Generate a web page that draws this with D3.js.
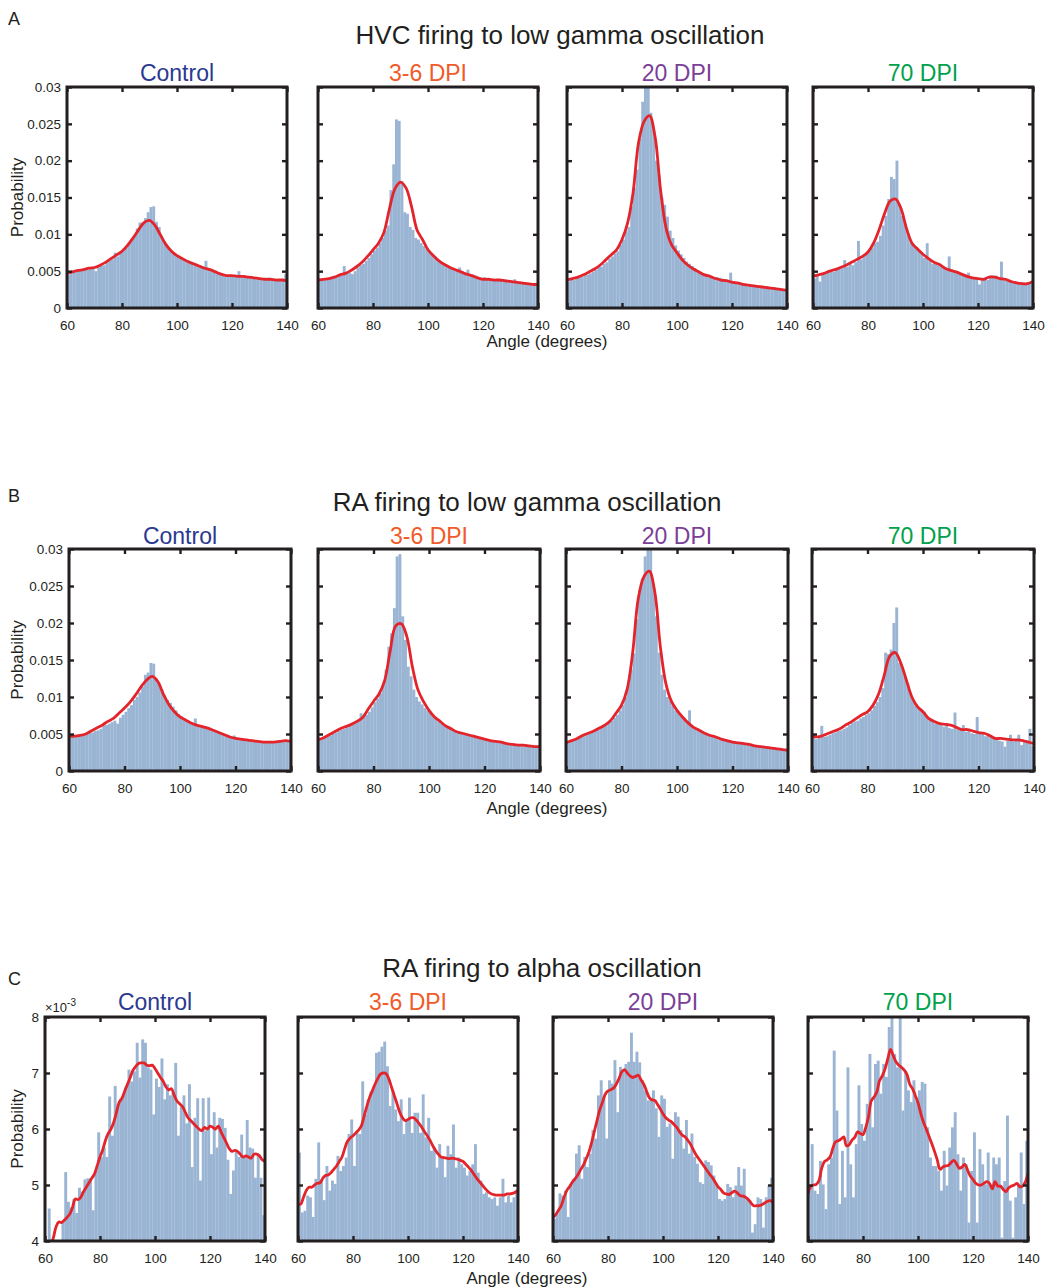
<!DOCTYPE html>
<html>
<head>
<meta charset="utf-8">
<script src="https://cdn.jsdelivr.net/npm/d3@7"></script>
<style>
  body { margin: 0; background: #fff; }
  text { font-family: "Liberation Sans", Arial, Helvetica, sans-serif; fill: #231f20; }
</style>
</head>
<body>
<svg id="fig" width="1055" height="1288"></svg>
<script>
// ---- categories and ticks ----
const groups = ["Control", "3-6 DPI", "20 DPI", "70 DPI"];
const angleTicks = [60, 80, 100, 120, 140];
const probTicks = [0, 0.005, 0.01, 0.015, 0.02, 0.025, 0.03];
const probTickLabels = ["0", "0.005", "0.01", "0.015", "0.02", "0.025", "0.03"];
const alphaTicks = [4, 5, 6, 7, 8];            // ×10^-3
const alphaTickLabels = ["4", "5", "6", "7", "8"];
const angleBins = d3.range(60, 140);            // left edges of 1° bins
const gammaSmoothAngles = d3.range(60, 141, 2);
const alphaSmoothAngles = d3.range(60, 141, 1);

// ---- A: HVC firing to low gamma oscillation ----
const hvcControlBars = [
  .0045,.0048,.0049,.0050,.0052,.0052,.0053,.0052,.0054,.0056,
  .0050,.0055,.0057,.0058,.0062,.0064,.0066,.0075,.0070,.0076,
  .0078,.0082,.0088,.0093,.0098,.0108,.0116,.0116,.0122,.0130,
  .0137,.0138,.0117,.0110,.0096,.0090,.0083,.0078,.0074,.0071,
  .0070,.0068,.0066,.0064,.0062,.0060,.0059,.0058,.0057,.0055,
  .0064,.0053,.0051,.0050,.0048,.0047,.0045,.0043,.0043,.0044,
  .0044,.0043,.0050,.0043,.0044,.0043,.0043,.0042,.0042,.0041,
  .0040,.0040,.0041,.0039,.0039,.0038,.0038,.0039,.0040,.0046];
const hvcControlSmooth = [
  .0047,.0049,.0051,.0052,.0054,.0055,.0058,.0062,.0067,.0072,
  .0077,.0085,.0095,.0106,.0116,.0119,.0112,.0099,.0086,.0077,
  .0071,.0067,.0063,.0060,.0057,.0054,.0052,.0049,.0046,.0044,
  .0044,.0043,.0043,.0042,.0041,.0040,.0039,.0039,.0038,.0038,.0037];

const hvcDpi3to6Bars = [
  .0037,.0038,.0040,.0040,.0041,.0042,.0043,.0044,.0045,.0057,
  .0047,.0048,.0046,.0050,.0055,.0058,.0060,.0064,.0068,.0073,
  .0078,.0082,.0088,.0095,.0105,.0112,.0160,.0195,.0256,.0254,
  .0172,.0130,.0128,.0110,.0106,.0095,.0093,.0088,.0084,.0080,
  .0077,.0073,.0070,.0066,.0063,.0061,.0059,.0057,.0055,.0053,
  .0052,.0055,.0050,.0048,.0052,.0046,.0045,.0044,.0042,.0041,
  .0042,.0040,.0039,.0039,.0038,.0038,.0037,.0037,.0036,.0036,
  .0036,.0039,.0035,.0034,.0034,.0033,.0033,.0033,.0032,.0033];
const hvcDpi3to6Smooth = [
  .0038,.0039,.0040,.0042,.0045,.0047,.0051,.0056,.0062,.0070,
  .0079,.0088,.0103,.0135,.0162,.0171,.0163,.0138,.0106,.0093,
  .0079,.0071,.0064,.0059,.0055,.0052,.0049,.0046,.0044,.0041,
  .0039,.0039,.0038,.0038,.0037,.0036,.0035,.0034,.0033,.0032,.0032];

const hvcDpi20Bars = [
  .0036,.0039,.0038,.0040,.0041,.0042,.0044,.0045,.0047,.0049,
  .0052,.0057,.0056,.0060,.0062,.0067,.0070,.0074,.0077,.0086,
  .0093,.0104,.0110,.0138,.0163,.0188,.0230,.0280,.0305,.0305,
  .0265,.0242,.0200,.0180,.0150,.0140,.0124,.0105,.0095,.0085,
  .0078,.0073,.0068,.0063,.0060,.0057,.0054,.0051,.0049,.0047,
  .0046,.0045,.0043,.0042,.0042,.0041,.0040,.0039,.0038,.0048,
  .0036,.0035,.0034,.0034,.0033,.0032,.0032,.0031,.0031,.0030,
  .0030,.0029,.0029,.0028,.0028,.0028,.0027,.0027,.0026,.0025];
const hvcDpi20Smooth = [
  .0038,.0040,.0042,.0045,.0049,.0053,.0058,.0065,.0072,.0079,
  .0093,.0115,.0156,.0224,.0253,.0261,.0233,.0161,.0109,.0086,
  .0075,.0065,.0058,.0053,.0049,.0045,.0043,.0040,.0038,.0037,
  .0035,.0034,.0032,.0031,.0030,.0029,.0028,.0027,.0026,.0025,.0024];

const hvcDpi70Bars = [
  .0040,.0044,.0036,.0046,.0047,.0048,.0050,.0049,.0052,.0053,
  .0054,.0065,.0056,.0060,.0058,.0062,.0091,.0066,.0070,.0073,
  .0078,.0082,.0088,.0090,.0098,.0112,.0125,.0148,.0178,.0175,
  .0200,.0140,.0125,.0115,.0100,.0090,.0087,.0082,.0078,.0074,
  .0068,.0088,.0066,.0060,.0062,.0058,.0056,.0054,.0052,.0070,
  .0050,.0049,.0048,.0046,.0046,.0044,.0048,.0042,.0040,.0041,
  .0032,.0040,.0041,.0038,.0044,.0044,.0044,.0039,.0063,.0040,
  .0037,.0038,.0036,.0036,.0034,.0034,.0033,.0033,.0034,.0036];
const hvcDpi70Smooth = [
  .0043,.0045,.0047,.0050,.0052,.0055,.0058,.0062,.0066,.0070,
  .0076,.0088,.0106,.0128,.0145,.0148,.0135,.0108,.0088,.0080,
  .0073,.0067,.0062,.0059,.0054,.0051,.0049,.0046,.0043,.0041,
  .0040,.0039,.0042,.0042,.0040,.0039,.0036,.0034,.0033,.0033,.0036];

// ---- B: RA firing to low gamma oscillation ----
const raGammaControlBars = [
  .0046,.0047,.0048,.0048,.0049,.0049,.0050,.0051,.0052,.0054,
  .0055,.0057,.0061,.0062,.0064,.0066,.0068,.0064,.0072,.0076,
  .0080,.0085,.0089,.0096,.0100,.0106,.0114,.0130,.0133,.0146,
  .0145,.0125,.0118,.0110,.0102,.0096,.0092,.0087,.0082,.0077,
  .0074,.0071,.0068,.0066,.0064,.0071,.0062,.0060,.0059,.0058,
  .0057,.0056,.0054,.0052,.0051,.0049,.0048,.0046,.0045,.0048,
  .0043,.0042,.0042,.0041,.0041,.0040,.0040,.0040,.0039,.0039,
  .0039,.0039,.0039,.0039,.0039,.0039,.0039,.0040,.0040,.0039];
const raGammaControlSmooth = [
  .0047,.0047,.0048,.0050,.0054,.0058,.0062,.0067,.0071,.0078,
  .0085,.0093,.0103,.0114,.0123,.0128,.0121,.0104,.0090,.0080,
  .0073,.0069,.0065,.0062,.0060,.0058,.0055,.0052,.0049,.0046,
  .0044,.0043,.0042,.0041,.0040,.0039,.0039,.0039,.0040,.0041,.0040];

const raGammaDpi3to6Bars = [
  .0041,.0043,.0045,.0047,.0048,.0050,.0052,.0054,.0056,.0057,
  .0059,.0061,.0063,.0066,.0068,.0078,.0073,.0076,.0080,.0086,
  .0093,.0098,.0105,.0118,.0137,.0168,.0186,.0220,.0290,.0293,
  .0209,.0177,.0141,.0128,.0110,.0100,.0094,.0090,.0085,.0082,
  .0079,.0074,.0071,.0067,.0064,.0062,.0060,.0058,.0056,.0054,
  .0053,.0052,.0050,.0049,.0048,.0047,.0046,.0045,.0044,.0044,
  .0043,.0042,.0041,.0040,.0040,.0039,.0038,.0038,.0037,.0037,
  .0036,.0036,.0035,.0035,.0034,.0034,.0034,.0033,.0033,.0033];
const raGammaDpi3to6Smooth = [
  .0042,.0045,.0049,.0053,.0057,.0060,.0063,.0067,.0072,.0083,
  .0094,.0104,.0122,.0162,.0196,.0199,.0182,.0141,.0110,.0094,
  .0082,.0073,.0067,.0061,.0057,.0053,.0051,.0049,.0047,.0045,
  .0043,.0041,.0040,.0039,.0037,.0036,.0035,.0035,.0034,.0033,.0033];

const raGammaDpi20Bars = [
  .0037,.0039,.0041,.0043,.0044,.0046,.0047,.0049,.0050,.0052,
  .0054,.0056,.0058,.0060,.0062,.0065,.0068,.0072,.0076,.0082,
  .0089,.0100,.0118,.0137,.0159,.0205,.0244,.0260,.0290,.0305,
  .0300,.0252,.0209,.0160,.0130,.0110,.0100,.0095,.0088,.0082,
  .0078,.0074,.0070,.0067,.0082,.0060,.0058,.0056,.0054,.0052,
  .0050,.0049,.0048,.0046,.0045,.0044,.0043,.0042,.0041,.0040,
  .0039,.0039,.0038,.0037,.0037,.0036,.0035,.0035,.0034,.0034,
  .0033,.0033,.0032,.0032,.0031,.0031,.0030,.0030,.0029,.0029];
const raGammaDpi20Smooth = [
  .0038,.0041,.0044,.0048,.0051,.0054,.0058,.0062,.0068,.0078,
  .0089,.0110,.0159,.0232,.0262,.0270,.0242,.0168,.0118,.0094,
  .0082,.0073,.0065,.0059,.0055,.0051,.0048,.0046,.0043,.0041,
  .0039,.0038,.0037,.0036,.0034,.0033,.0032,.0031,.0030,.0029,.0028];

const raGammaDpi70Bars = [
  .0045,.0043,.0046,.0061,.0046,.0047,.0049,.0051,.0052,.0054,
  .0055,.0057,.0059,.0062,.0065,.0067,.0068,.0071,.0073,.0076,
  .0078,.0082,.0088,.0093,.0100,.0112,.0160,.0158,.0164,.0200,
  .0221,.0146,.0140,.0128,.0118,.0104,.0096,.0090,.0085,.0083,
  .0080,.0074,.0070,.0067,.0064,.0063,.0062,.0060,.0065,.0058,
  .0057,.0079,.0056,.0055,.0062,.0053,.0054,.0051,.0050,.0073,
  .0052,.0050,.0047,.0049,.0046,.0045,.0042,.0041,.0040,.0033,
  .0041,.0049,.0040,.0042,.0049,.0035,.0040,.0039,.0057,.0034];
const raGammaDpi70Smooth = [
  .0047,.0046,.0048,.0051,.0054,.0057,.0062,.0066,.0071,.0076,
  .0080,.0089,.0104,.0129,.0155,.0160,.0146,.0123,.0100,.0087,
  .0080,.0071,.0067,.0064,.0063,.0062,.0059,.0056,.0056,.0054,
  .0052,.0051,.0048,.0044,.0044,.0043,.0042,.0042,.0041,.0039,.0037];

// ---- C: RA firing to alpha oscillation (values ×10^-3) ----
const raAlphaControlBars = [
  3.8,4.58,3.9,3.9,3.95,3.98,4.33,5.23,4.7,4.6,
  4.75,4.5,4.95,4.88,5.1,5.12,5.12,4.55,5.26,5.94,
  5.5,5.67,5.5,6.58,5.88,6.77,6.44,6.53,6.6,6.75,
  7.06,6.85,7.03,7.54,6.92,7.6,7.54,7.1,7.06,6.26,
  6.9,6.75,7.26,6.53,6.8,6.6,6.65,7.18,5.88,6.4,
  6.6,6.1,6.8,5.32,6.2,6.55,5.08,6.55,5.97,6.56,
  5.55,6.3,5.67,6.2,6.18,6.02,5.45,4.84,5.26,5.6,
  5.5,5.9,5.5,6.16,5.67,5.65,5.13,5.55,5.13,4.46];
const raAlphaControlSmooth = [
  3.7,3.8,3.92,4.05,4.25,4.34,4.33,4.37,4.42,4.48,
  4.6,4.75,4.74,4.78,4.88,4.96,5.04,5.12,5.2,5.35,
  5.5,5.63,5.8,5.92,6.0,6.12,6.3,6.48,6.55,6.68,
  6.8,6.92,7.05,7.12,7.17,7.18,7.18,7.14,7.13,7.14,
  7.08,7.0,6.92,6.85,6.75,6.7,6.72,6.6,6.5,6.45,
  6.4,6.3,6.2,6.15,6.1,6.05,6.0,5.97,6.03,6.0,
  6.05,6.03,6.0,6.05,5.95,5.85,5.75,5.65,5.6,5.62,
  5.6,5.55,5.5,5.52,5.5,5.48,5.55,5.55,5.52,5.45,
  5.42];

const raAlphaDpi3to6Bars = [
  5.58,4.51,4.54,4.81,4.78,4.43,5.11,5.76,5.08,4.73,
  5.34,4.9,5.08,5.02,5.52,5.25,5.34,5.49,5.91,6.17,
  5.34,5.93,5.91,6.85,6.26,6.53,6.67,6.73,7.36,7.38,
  7.47,7.56,7.12,6.41,6.67,6.35,6.14,6.53,5.91,6.17,
  6.56,5.93,6.29,6.29,5.93,6.62,5.85,6.2,5.61,5.67,
  5.31,5.73,5.49,5.14,5.7,5.55,6.08,5.31,5.49,5.37,
  5.31,5.17,5.25,5.37,5.73,5.22,5.08,4.84,4.87,4.78,
  4.75,4.78,4.63,4.78,5.11,4.69,4.81,4.69,4.78,4.9];
const raAlphaDpi3to6Smooth = [
  4.66,4.66,4.78,4.9,4.96,4.96,5.0,5.03,5.04,5.12,
  5.17,5.18,5.22,5.28,5.34,5.42,5.5,5.65,5.78,5.84,
  5.88,5.93,5.98,6.05,6.22,6.4,6.56,6.68,6.8,6.9,
  6.98,7.0,6.99,6.9,6.75,6.6,6.45,6.3,6.2,6.15,
  6.17,6.2,6.2,6.16,6.1,6.03,5.95,5.88,5.8,5.7,
  5.62,5.55,5.5,5.49,5.48,5.47,5.48,5.47,5.46,5.44,
  5.42,5.37,5.32,5.26,5.19,5.12,5.06,5.0,4.94,4.89,
  4.85,4.83,4.82,4.82,4.82,4.82,4.84,4.84,4.85,4.87,
  4.91];

const raAlphaDpi20Bars = [
  4.4,4.48,4.85,4.81,4.9,4.43,5.02,5.11,5.56,5.71,
  5.11,5.5,5.32,5.56,5.98,5.83,6.6,6.87,6.57,5.83,
  6.87,6.81,7.23,6.3,7.11,7.04,7.16,7.2,7.72,7.2,
  7.38,7.19,6.87,6.69,6.51,6.54,6.69,6.37,5.86,6.6,
  6.54,6.04,6.1,5.47,6.3,6.22,5.98,5.65,6.16,5.56,
  5.92,5.5,5.38,5.05,5.02,5.44,5.41,5.35,5.17,5.02,
  4.75,4.72,4.75,5.02,4.96,4.78,4.99,5.32,4.99,5.29,
  4.78,4.73,4.15,4.3,4.78,4.75,4.24,4.78,4.99,5.13];
const raAlphaDpi20Smooth = [
  4.42,4.47,4.55,4.63,4.78,4.9,4.97,5.05,5.11,5.18,
  5.27,5.35,5.46,5.58,5.75,5.95,6.15,6.34,6.48,6.62,
  6.68,6.7,6.73,6.8,6.9,7.02,7.06,7.0,6.95,6.92,
  6.94,6.96,6.88,6.8,6.68,6.56,6.52,6.51,6.44,6.36,
  6.27,6.2,6.16,6.13,6.08,6.03,5.95,5.89,5.86,5.8,
  5.73,5.63,5.54,5.47,5.4,5.33,5.26,5.19,5.13,5.05,
  4.97,4.92,4.86,4.84,4.83,4.86,4.89,4.86,4.81,4.8,
  4.78,4.74,4.68,4.63,4.63,4.63,4.65,4.68,4.71,4.72,
  4.69];

const raAlphaDpi70Bars = [
  4.9,5.73,4.9,4.84,5.43,5.01,4.57,5.37,5.49,7.4,
  6.33,4.66,5.61,4.78,7.1,5.37,4.78,5.73,6.78,6.09,
  5.79,6.45,7.34,6.03,7.16,7.22,6.63,7.16,6.93,7.82,
  8.1,7.34,7.1,8.1,6.33,7.04,6.69,6.48,6.87,6.51,
  6.69,6.84,6.81,6.03,5.49,5.34,5.34,5.25,4.9,5.61,
  4.99,5.67,6.03,6.3,5.55,4.9,5.49,5.37,4.33,5.25,
  5.94,4.33,5.64,5.37,5.01,5.58,5.01,5.49,5.37,5.49,
  4.06,5.07,6.24,4.72,4.06,4.78,5.01,5.58,4.66,5.79];
const raAlphaDpi70Smooth = [
  4.84,4.97,5.0,5.01,5.08,5.3,5.42,5.45,5.5,5.65,
  5.77,5.79,5.82,5.86,5.7,5.72,5.8,5.85,5.95,5.92,
  5.9,6.03,6.22,6.5,6.57,6.66,6.86,6.95,7.07,7.25,
  7.42,7.31,7.2,7.14,7.1,7.05,6.97,6.8,6.72,6.6,
  6.47,6.28,6.12,6.0,5.87,5.74,5.6,5.45,5.28,5.32,
  5.34,5.35,5.4,5.44,5.38,5.3,5.32,5.37,5.27,5.16,
  5.1,5.03,5.0,5.0,5.03,5.06,5.03,4.93,5.06,4.98,
  4.98,4.92,4.88,4.95,4.98,5.0,5.03,4.97,4.98,5.05,
  5.21];

// ---- styling ----
const groupColors = ["#2b3990", "#f15a29", "#7b3f98", "#00a14b"];
const barFill = "#9ab4d3";
const smoothStroke = "#e3242b";
const ink = "#231f20";

// ---- row layout ----
const rows = [
  { letter: "A", letterY: 25, title: "HVC firing to low gamma oscillation", titleX: 560, titleY: 44,
    subY: 81, top: 87, height: 221, width: 220, lefts: [67, 318, 567, 813],
    domain: [0, 0.03], yTicks: probTicks, yLabels: probTickLabels, smoothX: gammaSmoothAngles,
    bars: [hvcControlBars, hvcDpi3to6Bars, hvcDpi20Bars, hvcDpi70Bars],
    smooth: [hvcControlSmooth, hvcDpi3to6Smooth, hvcDpi20Smooth, hvcDpi70Smooth],
    xLabelX: 547, xLabelY: 347, exponent: false },
  { letter: "B", letterY: 502, title: "RA firing to low gamma oscillation", titleX: 527, titleY: 511,
    subY: 544, top: 549, height: 222, width: 222, lefts: [69, 318, 566, 812],
    domain: [0, 0.03], yTicks: probTicks, yLabels: probTickLabels, smoothX: gammaSmoothAngles,
    bars: [raGammaControlBars, raGammaDpi3to6Bars, raGammaDpi20Bars, raGammaDpi70Bars],
    smooth: [raGammaControlSmooth, raGammaDpi3to6Smooth, raGammaDpi20Smooth, raGammaDpi70Smooth],
    xLabelX: 547, xLabelY: 814, exponent: false },
  { letter: "C", letterY: 985, title: "RA firing to alpha oscillation", titleX: 542, titleY: 977,
    subY: 1010, top: 1017, height: 224, width: 220, lefts: [45, 298, 553, 808],
    domain: [4, 8], yTicks: alphaTicks, yLabels: alphaTickLabels, smoothX: alphaSmoothAngles,
    bars: [raAlphaControlBars, raAlphaDpi3to6Bars, raAlphaDpi20Bars, raAlphaDpi70Bars],
    smooth: [raAlphaControlSmooth, raAlphaDpi3to6Smooth, raAlphaDpi20Smooth, raAlphaDpi70Smooth],
    xLabelX: 527, xLabelY: 1284, exponent: true }
];

const svg = d3.select("#fig");

function styleAxis(sel, fontSize) {
  sel.attr("font-family", null).attr("font-size", null);
  sel.select(".domain").remove();
  sel.selectAll(".tick line").attr("stroke", ink).attr("stroke-width", 2.4);
  sel.selectAll(".tick text").attr("font-size", fontSize).attr("fill", ink);
}

rows.forEach((row, r) => {
  svg.append("text").attr("x", 8).attr("y", row.letterY)
    .attr("font-size", 18).text(row.letter);
  svg.append("text").attr("x", row.titleX).attr("y", row.titleY)
    .attr("text-anchor", "middle").attr("font-size", 26).text(row.title);
  svg.append("text").attr("x", row.xLabelX).attr("y", row.xLabelY)
    .attr("text-anchor", "middle").attr("font-size", 17).text("Angle (degrees)");
  const midY = row.top + row.height / 2;
  svg.append("text").attr("transform", `translate(23,${midY}) rotate(-90)`)
    .attr("text-anchor", "middle").attr("font-size", 17).text("Probability");

  row.lefts.forEach((left, p) => {
    const w = row.width, h = row.height;
    const g = svg.append("g").attr("transform", `translate(${left},${row.top})`);
    const x = d3.scaleLinear().domain([60, 140]).range([0, w]);
    const y = d3.scaleLinear().domain(row.domain).range([h, 0]);

    // group name
    svg.append("text").attr("x", left + w / 2).attr("y", row.subY)
      .attr("text-anchor", "middle").attr("font-size", 23)
      .style("fill", groupColors[p]).text(groups[p]);

    const clipId = `clip-${r}-${p}`;
    g.append("clipPath").attr("id", clipId)
      .append("rect").attr("width", w).attr("height", h);
    const plot = g.append("g").attr("clip-path", `url(#${clipId})`);

    // histogram bars
    plot.selectAll("rect.bar").data(row.bars[p]).join("rect")
      .attr("class", "bar")
      .attr("x", (d, i) => x(angleBins[i]))
      .attr("width", (d, i) => x(angleBins[i] + 1) - x(angleBins[i]) + 0.15)
      .attr("y", d => y(d))
      .attr("height", d => Math.max(0, h - y(d)))
      .attr("fill", barFill);

    // smoothed density
    const line = d3.line()
      .x((d, i) => x(row.smoothX[i]))
      .y(d => y(d))
      .curve(d3.curveCatmullRom.alpha(0.5));
    plot.append("path").datum(row.smooth[p])
      .attr("d", line)
      .attr("fill", "none")
      .attr("stroke", smoothStroke)
      .attr("stroke-width", 2.8)
      .attr("stroke-linejoin", "round");

    // axes with inward ticks on all four sides
    const bottom = g.append("g").attr("transform", `translate(0,${h})`)
      .call(d3.axisBottom(x).tickValues(angleTicks).tickSizeInner(-5).tickSizeOuter(0).tickPadding(12));
    styleAxis(bottom, 13.5);
    const top = g.append("g")
      .call(d3.axisTop(x).tickValues(angleTicks).tickSizeInner(-5).tickSizeOuter(0).tickFormat(() => ""));
    styleAxis(top, 13.5);
    const leftAxis = g.append("g")
      .call(d3.axisLeft(y).tickValues(row.yTicks).tickSizeInner(-5).tickSizeOuter(0).tickPadding(6)
        .tickFormat((d, i) => p === 0 ? row.yLabels[i] : ""));
    styleAxis(leftAxis, 13.5);
    const rightAxis = g.append("g").attr("transform", `translate(${w},0)`)
      .call(d3.axisRight(y).tickValues(row.yTicks).tickSizeInner(-5).tickSizeOuter(0).tickFormat(() => ""));
    styleAxis(rightAxis, 13.5);

    g.append("rect").attr("width", w).attr("height", h)
      .attr("fill", "none").attr("stroke", ink).attr("stroke-width", 3);

    if (row.exponent && p === 0) {
      const t = g.append("text").attr("x", 0).attr("y", -5).attr("font-size", 13);
      t.append("tspan").text("×10");
      t.append("tspan").attr("dy", -6).attr("font-size", 10).text("-3");
    }
  });
});
</script>
</body>
</html>
